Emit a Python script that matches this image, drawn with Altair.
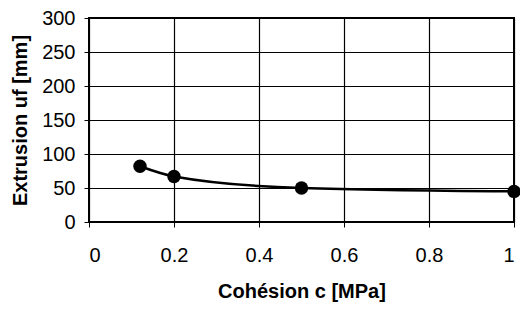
import altair as alt
import pandas as pd

cohesion = [0.12, 0.2, 0.5, 1.0]
extrusion = [82, 67, 50, 45]

df = pd.DataFrame({"c": cohesion, "uf": extrusion})

FONT = "Liberation Sans"

base = alt.Chart(df).encode(
    x=alt.X(
        "c:Q",
        scale=alt.Scale(domain=[0, 1], nice=False, zero=True),
        axis=alt.Axis(
            title="Cohésion c [MPa]",
            values=[0, 0.2, 0.4, 0.6, 0.8, 1],
            format="~g",
            labelFontSize=20,
            titleFontSize=20,
            titleFontWeight="bold",
            labelPadding=18,
            titlePadding=16,
            tickSize=5,
        ),
    ),
    y=alt.Y(
        "uf:Q",
        scale=alt.Scale(domain=[0, 300], nice=False),
        axis=alt.Axis(
            title="Extrusion uf [mm]",
            values=[0, 50, 100, 150, 200, 250, 300],
            labelFontSize=20,
            titleFontSize=20,
            titleFontWeight="bold",
            labelPadding=9,
            titlePadding=11,
            tickSize=5,
        ),
    ),
)

line = base.mark_line(color="black", strokeWidth=2.5, interpolate="monotone")
pts = base.mark_circle(color="black", size=180, opacity=1)

chart = (
    (line + pts)
    .properties(
        width=425,
        height=204,
        autosize=alt.AutoSizeParams(type="none"),
        padding={"left": 81, "top": 10, "right": 6, "bottom": 80},
    )
    .configure(font=FONT)
    .configure_axis(
        grid=True,
        gridColor="black",
        gridOpacity=1,
        gridWidth=1.2,
        domain=False,
        tickColor="black",
        tickWidth=1,
        labelColor="black",
        titleColor="black",
        labelFont=FONT,
        titleFont=FONT,
    )
    .configure_view(stroke="black", strokeWidth=2)
)

chart.save("out.html", embed_options={"renderer": "svg", "actions": False})
